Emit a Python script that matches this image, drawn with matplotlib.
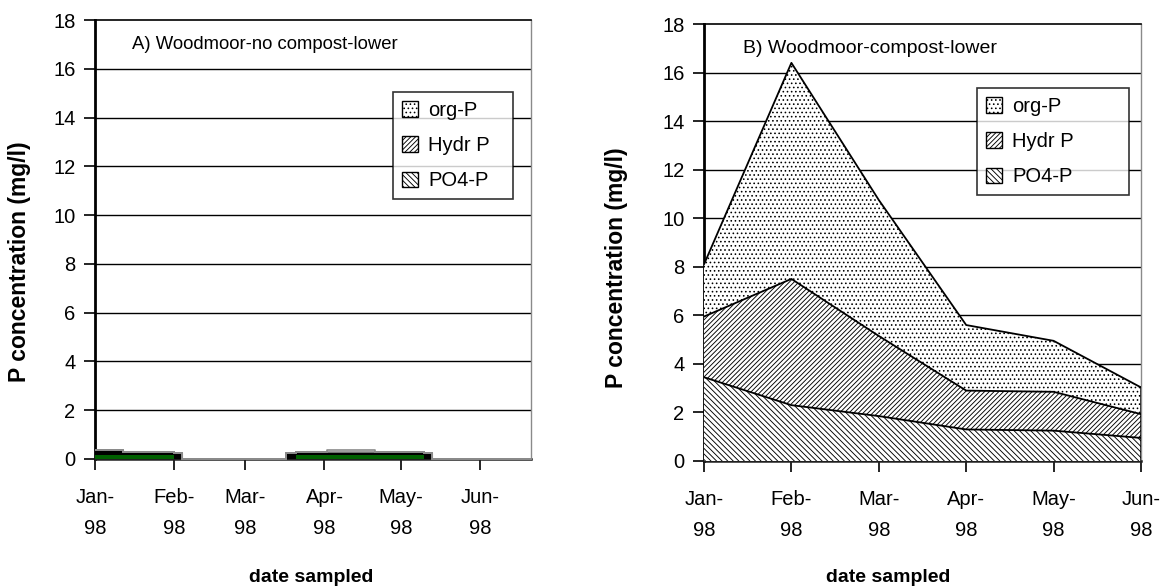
import matplotlib
matplotlib.use("Agg")
import matplotlib.pyplot as plt
import matplotlib.dates as mdates
from matplotlib.patches import Patch
import numpy as np
import datetime as dt

plt.rcParams['font.family'] = ['Liberation Sans', 'DejaVu Sans']
plt.rcParams['hatch.linewidth'] = 0.65

# ---- data -------------------------------------------------------------
series_names = ["org-P", "Hydr P", "PO4-P"]

# Panel A: step boundaries on a date axis and per-interval concentrations (mg/l)
a_edges = ["1998-01-01", "1998-01-12", "1998-02-01", "1998-02-04", "1998-03-17",
           "1998-03-21", "1998-04-02", "1998-04-21", "1998-05-10", "1998-05-13",
           "1998-06-21"]
a_po4 = [0.16, 0.16, 0.00, 0.00, 0.00, 0.16, 0.16, 0.16, 0.00, 0.00]
a_hydr = [0.21, 0.12, 0.25, 0.00, 0.25, 0.12, 0.12, 0.12, 0.25, 0.00]
a_org = [0.00, 0.00, 0.00, 0.00, 0.00, 0.00, 0.09, 0.00, 0.00, 0.00]

# Panel B: monthly samples (mg/l)
b_months = ["Jan-\n98", "Feb-\n98", "Mar-\n98", "Apr-\n98", "May-\n98", "Jun-\n98"]
b_po4 = [3.45, 2.3, 1.85, 1.3, 1.25, 0.95]
b_hydr = [2.5, 5.2, 3.3, 1.6, 1.6, 0.98]
b_org = [2.15, 8.9, 5.6, 2.7, 2.1, 1.1]

month_starts = ["1998-01-01", "1998-02-01", "1998-03-01", "1998-04-01",
                "1998-05-01", "1998-06-01"]
month_labels = ["Jan-\n98", "Feb-\n98", "Mar-\n98", "Apr-\n98", "May-\n98", "Jun-\n98"]

y_ticks = list(range(0, 19, 2))
FS = 14.5
HATCH_ORG = "...."
HATCH_HYDR = "///////"
HATCH_PO4 = "\\\\\\\\\\\\"

W, H = 1160, 586
fig = plt.figure(figsize=(W / 100, H / 100), dpi=100)


def fig_rect(x0, y0, x1, y1):
    return [x0 / W, 1 - y1 / H, (x1 - x0) / W, (y1 - y0) / H]


def style_axes(ax):
    ax.set_ylim(0, 18)
    ax.set_yticks(y_ticks)
    for y in y_ticks[1:-1]:
        ax.axhline(y, color="black", lw=1.0, zorder=1)
    ax.spines["left"].set_linewidth(2.0)
    ax.spines["left"].set_color("black")
    ax.spines["bottom"].set_linewidth(1.8)
    ax.spines["bottom"].set_color("#202020")
    ax.spines["top"].set_linewidth(1.2)
    ax.spines["top"].set_color("black")
    ax.spines["right"].set_linewidth(1.0)
    ax.spines["right"].set_color("#8a8a8a")
    ax.tick_params(axis="y", direction="out", length=8, width=1.2,
                   labelsize=FS, pad=6)
    ax.tick_params(axis="x", direction="out", length=8, width=1.2,
                   labelsize=FS, pad=13)
    for lab in ax.get_xticklabels():
        lab.set_linespacing(1.8)


def add_legend(ax, x0, top, width):
    handles = [Patch(facecolor="white", edgecolor="black", hatch=h, lw=1.0)
               for h in (HATCH_ORG, HATCH_HYDR, HATCH_PO4)]
    hb = 0.01
    leg = fig.legend(handles, series_names, loc="upper left",
                     bbox_to_anchor=(x0 / W, 1 - top / H - hb, width / W, hb),
                     bbox_transform=fig.transFigure,
                     mode="expand", fontsize=FS, frameon=True, fancybox=False,
                     borderpad=0.45, labelspacing=0.8, handlelength=0.8,
                     handleheight=0.8, handletextpad=0.5, borderaxespad=0)
    leg.get_frame().set_edgecolor("black")
    leg.get_frame().set_linewidth(1.2)
    return leg


# ---- panel A ----------------------------------------------------------
axA = fig.add_axes(fig_rect(95, 20, 531, 459))
xa = mdates.date2num([dt.datetime.fromisoformat(d) for d in a_edges])
po4 = np.array(a_po4 + [a_po4[-1]])
hyd = po4 + np.array(a_hydr + [a_hydr[-1]])
org = hyd + np.array(a_org + [a_org[-1]])
axA.fill_between(xa, 0, po4, step="post", facecolor="#006000", lw=0, zorder=3)
axA.fill_between(xa, po4, hyd, step="post", facecolor="black", lw=0, zorder=3)
axA.fill_between(xa, hyd, org, step="post", facecolor="white",
                 edgecolor="#8a8a8a", lw=1.2, zorder=3)
axA.step(xa, hyd, where="post", color="#9a9a9a", lw=0.8, zorder=2)
axA.set_xlim(xa[0], xa[-1])
axA.set_xticks(mdates.date2num([dt.datetime.fromisoformat(d) for d in month_starts]))
axA.set_xticklabels(month_labels)
style_axes(axA)
axA.text(0.085, 0.945, "A) Woodmoor-no compost-lower", transform=axA.transAxes,
         fontsize=13.3, ha="left", va="center")
add_legend(axA, 393, 92, 120)

# ---- panel B ----------------------------------------------------------
axB = fig.add_axes(fig_rect(704, 24, 1141, 461))
xb = np.arange(len(b_months))
s1 = np.array(b_po4)
s2 = s1 + np.array(b_hydr)
s3 = s2 + np.array(b_org)
axB.fill_between(xb, 0, s1, facecolor="white", edgecolor="black",
                 hatch=HATCH_PO4, lw=0, zorder=3)
axB.fill_between(xb, s1, s2, facecolor="white", edgecolor="black",
                 hatch=HATCH_HYDR, lw=0, zorder=3)
axB.fill_between(xb, s2, s3, facecolor="white", edgecolor="black",
                 hatch=HATCH_ORG, lw=0, zorder=3)
for s in (s1, s2, s3):
    axB.plot(xb, s, color="black", lw=1.3, zorder=4)
axB.plot([xb[-1], xb[-1]], [0, s3[-1]], color="black", lw=1.8, zorder=4)
axB.set_xlim(xb[0], xb[-1])
axB.set_xticks(xb)
axB.set_xticklabels(b_months)
style_axes(axB)
axB.text(0.09, 0.945, "B) Woodmoor-compost-lower", transform=axB.transAxes,
         fontsize=14, ha="left", va="center")
add_legend(axB, 977, 88, 152)

# ---- axis titles --------------------------------------------------------
for xc, yc in ((20, 262), (617, 268)):
    fig.text(xc / W, 1 - yc / H, "P concentration (mg/l)", rotation=90,
             fontsize=16.5, fontweight="bold", ha="center", va="center")
for xc in (311, 888):
    fig.text(xc / W, 1 - 578 / H, "date sampled", fontsize=14,
             fontweight="bold", ha="center", va="center")

fig.savefig("out.png", dpi=100, facecolor="white")
